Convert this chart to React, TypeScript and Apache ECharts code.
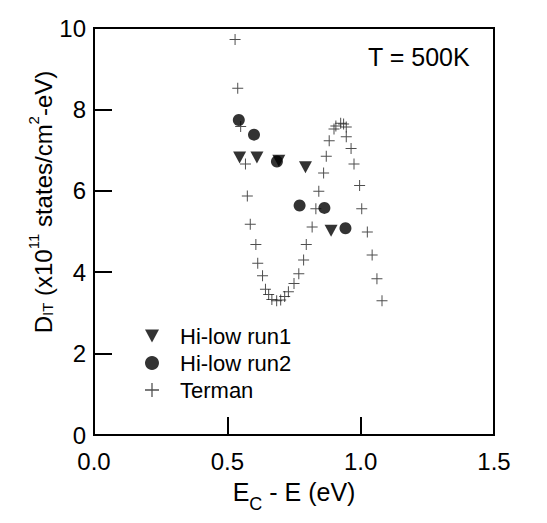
import React, { useEffect, useRef } from "react";
import * as echarts from "echarts";

// Hi-low run1 (▼)
const run1X = [0.546, 0.611, 0.693, 0.793, 0.889];
const run1Y = [6.82, 6.82, 6.74, 6.58, 5.02];
// Hi-low run2 (●)
const run2X = [0.543, 0.6, 0.686, 0.771, 0.864, 0.943];
const run2Y = [7.74, 7.38, 6.72, 5.64, 5.58, 5.08];
// Terman (+)
const termanX = [
  0.529, 0.539, 0.55, 0.568, 0.575, 0.586, 0.607, 0.614, 0.632, 0.643, 0.655, 0.667,
  0.685, 0.7, 0.715, 0.729, 0.75, 0.768, 0.786, 0.796, 0.818, 0.832, 0.843, 0.861,
  0.871, 0.882, 0.9, 0.907, 0.925, 0.936, 0.946, 0.946, 0.964, 0.975, 0.996, 1.004,
  1.025, 1.043, 1.061, 1.08,
];
const termanY = [
  9.72, 8.52, 7.58, 6.66, 5.87, 5.18, 4.68, 4.22, 3.91, 3.58, 3.45, 3.33,
  3.3, 3.32, 3.4, 3.52, 3.72, 3.96, 4.3, 4.68, 5.11, 5.56, 5.99, 6.44,
  6.85, 7.23, 7.52, 7.59, 7.66, 7.64, 7.57, 7.33, 7.04, 6.66, 6.13, 5.56,
  4.99, 4.42, 3.84, 3.3,
];
const xTicks = [0, 0.5, 1.0, 1.5];
const yTicks = [0, 2, 4, 6, 8, 10];
const seriesNames = ["Hi-low run1", "Hi-low run2", "Terman"];

const FONT = "'Liberation Sans', Arial, Helvetica, sans-serif";
const TRI = "path://M0,0H13L6.5,12Z";
const PLUS = "path://M0,5H11V6H0Z M5,0H6V11H5Z";

const zip = (xs: number[], ys: number[]) => xs.map((x, i) => [x, ys[i]]);

export default function App() {
  const ref = useRef<HTMLDivElement>(null);
  useEffect(() => {
    if (!ref.current) return;
    const chart = echarts.init(ref.current, undefined, { renderer: "svg" });
    const axisCommon = {
      axisLine: { show: true, onZero: false, lineStyle: { color: "#000", width: 2 } },
      axisTick: { show: true, inside: true, length: 18, lineStyle: { color: "#000", width: 2 } },
      splitLine: { show: false },
      axisLabel: { color: "#000", fontSize: 24, fontFamily: FONT },
    };
    chart.setOption({
      animation: false,
      backgroundColor: "#fff",
      grid: {
        left: 86,
        right: 61,
        top: 20,
        bottom: 96,
        show: true,
        borderColor: "#000",
        borderWidth: 2,
        containLabel: false,
      },
      xAxis: {
        type: "value",
        min: xTicks[0],
        max: xTicks[xTicks.length - 1],
        interval: 0.5,
        ...axisCommon,
        axisLabel: { ...axisCommon.axisLabel, margin: 14, formatter: (v: number) => v.toFixed(1) },
      },
      yAxis: {
        type: "value",
        min: yTicks[0],
        max: yTicks[yTicks.length - 1],
        interval: 2,
        ...axisCommon,
        axisLabel: { ...axisCommon.axisLabel, margin: 8 },
      },
      legend: {
        show: true,
        orient: "vertical",
        left: 132,
        top: 311,
        itemWidth: 14,
        itemHeight: 14,
        itemGap: 3,
        data: seriesNames,
        textStyle: { color: "#000", fontSize: 22, fontFamily: FONT, lineHeight: 24, padding: [0, 0, 0, 16] },
      },
      series: [
        {
          name: seriesNames[0],
          type: "scatter",
          symbol: TRI,
          symbolSize: [13, 12],
          itemStyle: { color: "#000" },
          data: zip(run1X, run1Y),
          z: 3,
        },
        {
          name: seriesNames[1],
          type: "scatter",
          symbol: "circle",
          symbolSize: 12,
          itemStyle: { color: "#000" },
          data: zip(run2X, run2Y),
          z: 4,
        },
        {
          name: seriesNames[2],
          type: "scatter",
          symbol: PLUS,
          symbolSize: 11,
          itemStyle: { color: "#222" },
          data: zip(termanX, termanY),
          z: 2,
        },
      ],
      graphic: [
        {
          type: "text",
          left: 360,
          top: 36,
          style: { text: "T = 500K", fill: "#000", font: `25px ${FONT}` },
        },
        {
          type: "text",
          x: 286,
          y: 484,
          style: {
            text: "{m|E}{sub|C}{m| - E (eV)}",
            align: "center",
            verticalAlign: "middle",
            rich: {
              m: { fontSize: 25, fontFamily: FONT, lineHeight: 40, verticalAlign: "middle", fill: "#000" },
              sub: { fontSize: 18, fontFamily: FONT, lineHeight: 18, verticalAlign: "top", padding: [23, 0, 0, 0], fill: "#000" },
            },
          },
        },
        {
          type: "text",
          x: 35,
          y: 194,
          rotation: Math.PI / 2,
          style: {
            text: "{m|D}{sub|IT}{m| (x10}{sup|11}{m| states/cm}{sup|2}{m|-eV)}",
            align: "center",
            verticalAlign: "middle",
            rich: {
              m: { fontSize: 24, fontFamily: FONT, lineHeight: 40, verticalAlign: "middle", fill: "#000" },
              sub: { fontSize: 15, fontFamily: FONT, lineHeight: 15, verticalAlign: "top", padding: [17, 0, 0, 0], fill: "#000" },
              sup: { fontSize: 15, fontFamily: FONT, lineHeight: 15, verticalAlign: "top", padding: [3, 0, 0, 0], fill: "#000" },
            },
          },
        },
      ],
    });
    return () => chart.dispose();
  }, []);
  return <div ref={ref} style={{ width: 547, height: 523 }} />;
}
